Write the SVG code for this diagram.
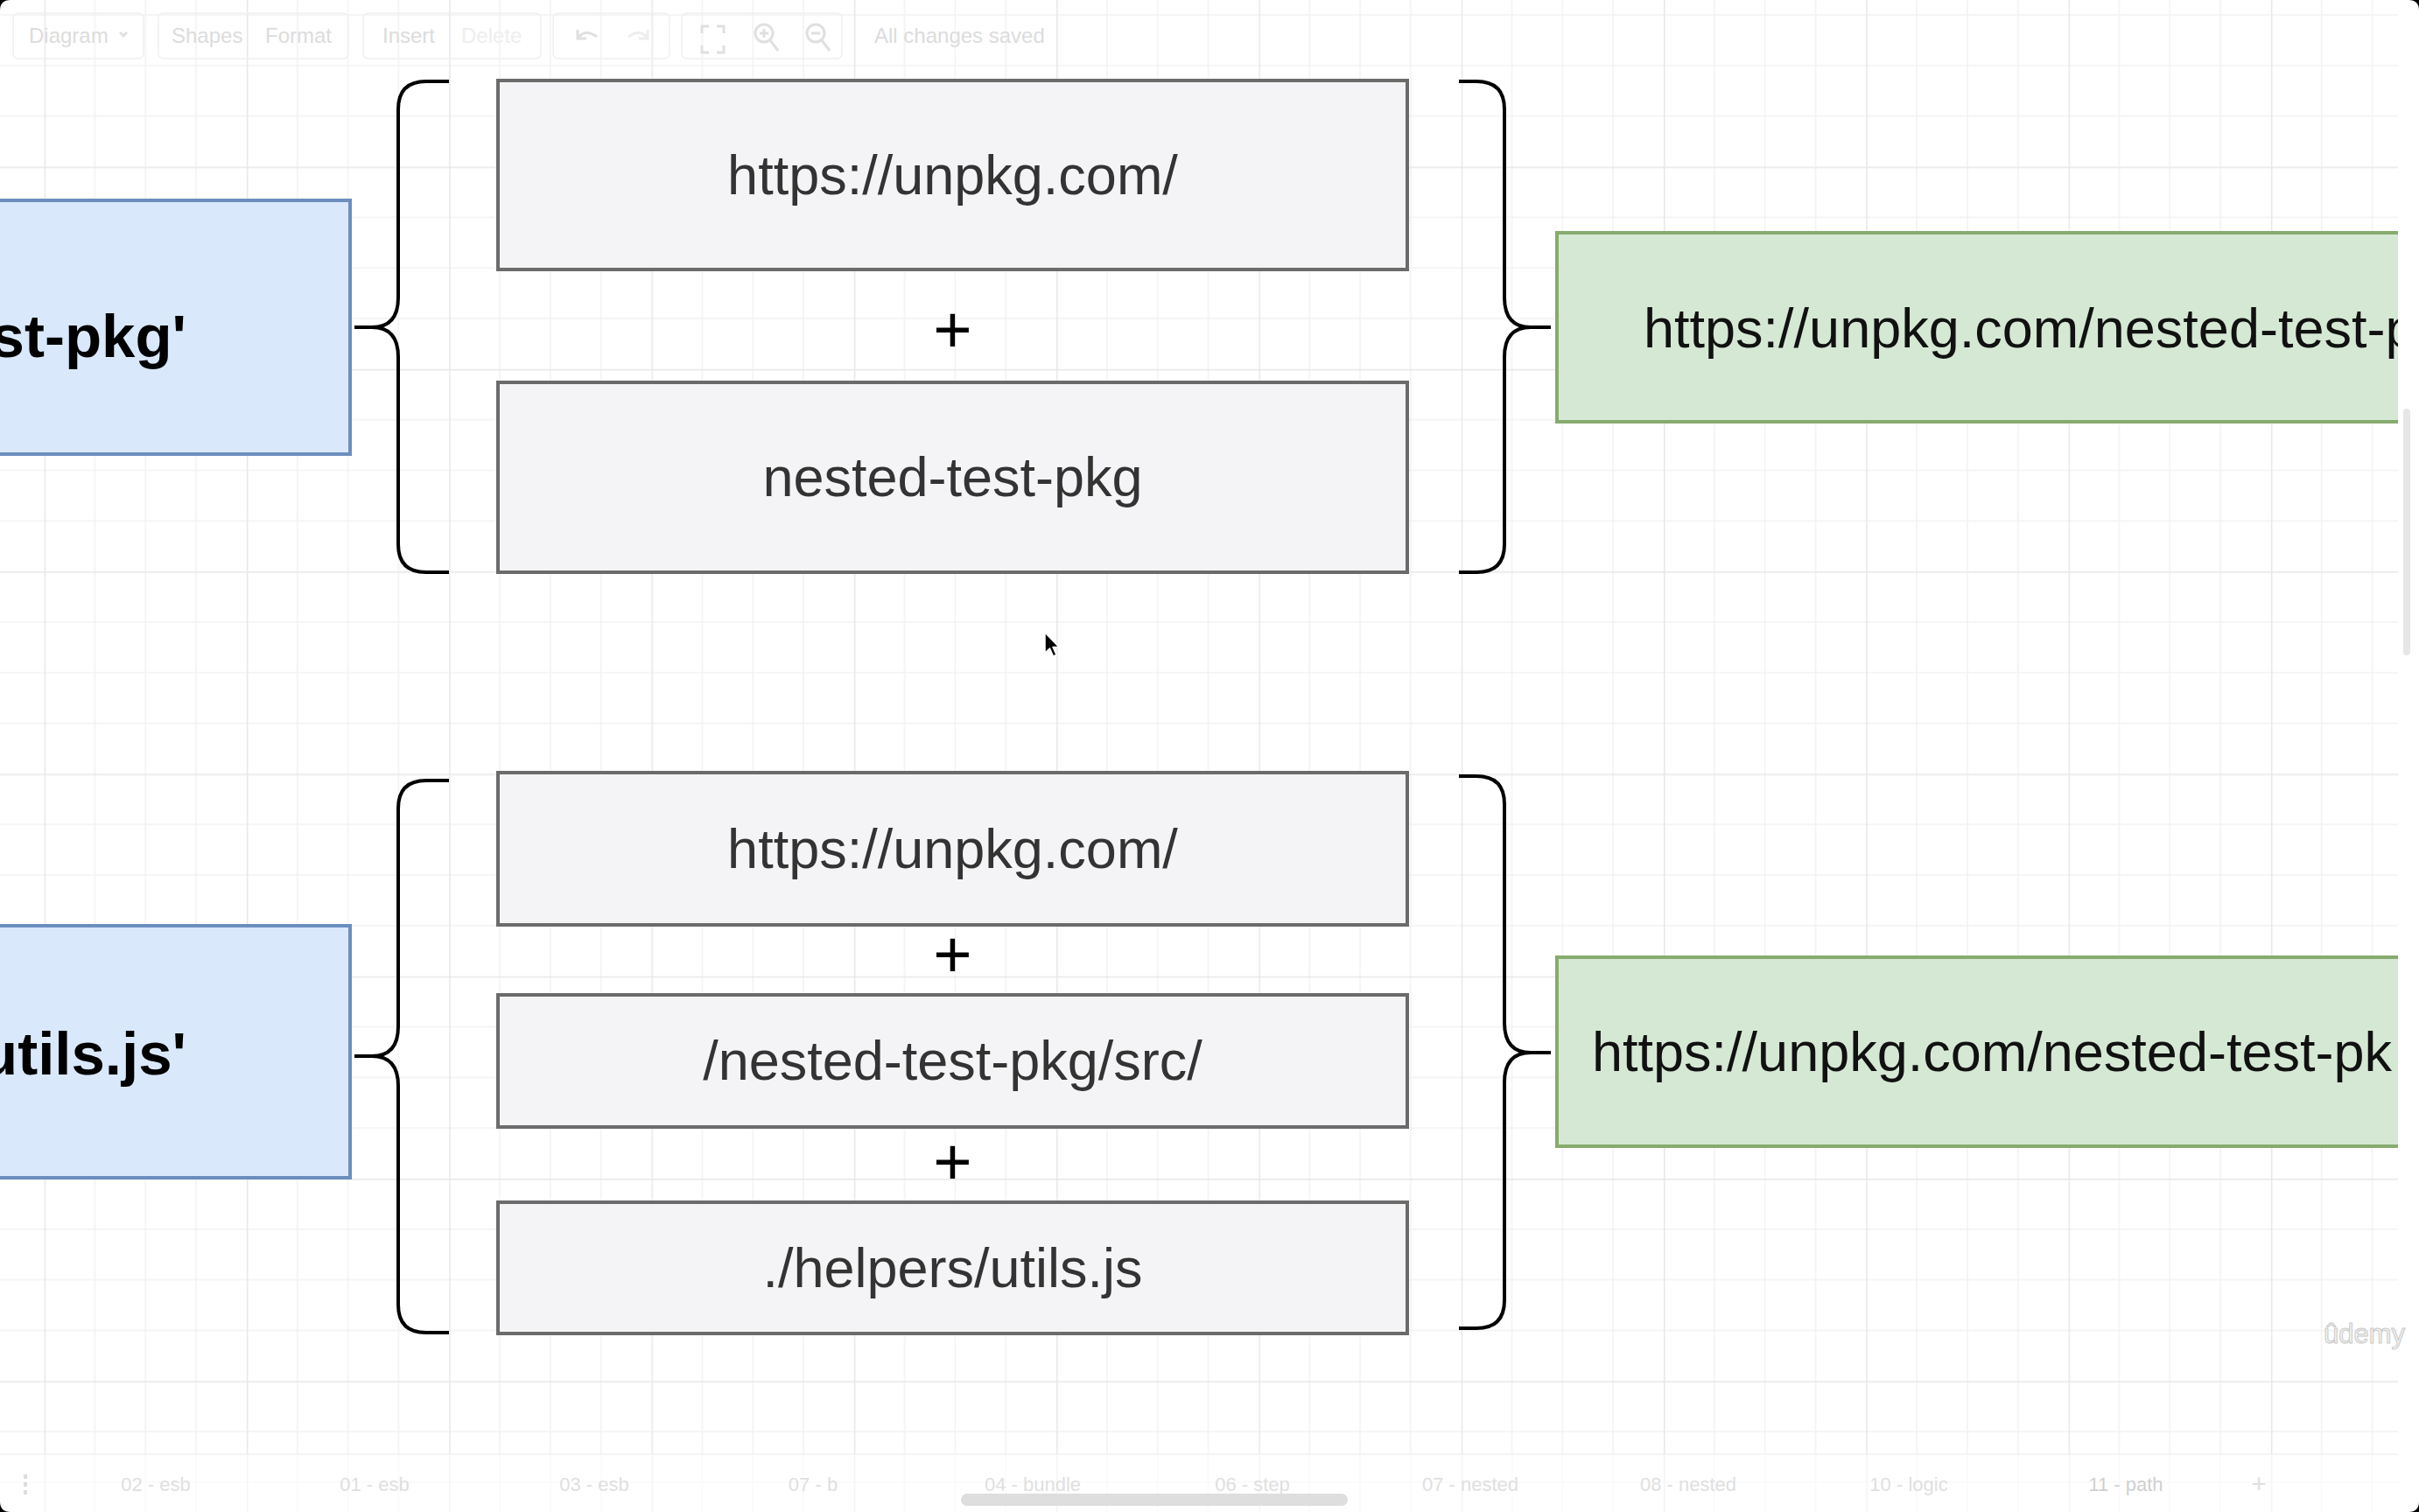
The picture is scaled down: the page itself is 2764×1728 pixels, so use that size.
<svg xmlns="http://www.w3.org/2000/svg" width="2764" height="1728" viewBox="0 0 2764 1728">
  <defs>
    <pattern id="grid" x="50.6" y="190.5" width="231.3" height="231.3" patternUnits="userSpaceOnUse">
      <path d="M57.8,0V231.3M115.65,0V231.3M173.5,0V231.3M0,57.8H231.3M0,115.65H231.3M0,173.5H231.3" stroke="#f2f2f2" stroke-width="1.5" fill="none"/>
      <path d="M0.75,0V231.3M0,0.75H231.3" stroke="#e7e7e7" stroke-width="1.5" fill="none"/>
    </pattern>
    <style>
      .gray { fill: #f4f4f6; stroke: #6b6b6b; stroke-width: 4; }
      .blue { fill: #dae8fc; stroke: #6c8ebf; stroke-width: 4; }
      .green { fill: #d5e8d4; stroke: #87ab6e; stroke-width: 4; }
      .gtxt { font-family: "Liberation Sans", Arial, Helvetica, sans-serif; font-size: 63px; fill: #333333; text-anchor: middle; }
      .btxt { font-family: "Liberation Sans", Arial, Helvetica, sans-serif; font-size: 69px; font-weight: bold; fill: #000000; text-anchor: end; }
      .rtxt { font-family: "Liberation Sans", Arial, Helvetica, sans-serif; font-size: 63px; fill: #111111; }
      .plus { font-family: "Liberation Sans", Arial, Helvetica, sans-serif; font-size: 76px; fill: #000000; text-anchor: middle; }
      .brace { fill: none; stroke: #000000; stroke-width: 4; stroke-linecap: butt; stroke-linejoin: round; }
      .tb { font-family: "Liberation Sans", Arial, Helvetica, sans-serif; font-size: 24px; fill: #dcdcdc; }
      .tbbox { fill: none; stroke: #f0f0f0; stroke-width: 1.5; }
      .tbicon { fill: none; stroke: #e0e0e0; stroke-width: 3; }
      .tab { font-family: "Liberation Sans", Arial, Helvetica, sans-serif; font-size: 22px; fill: #e0e0e0; text-anchor: middle; }
    </style>
  </defs>

  <!-- canvas -->
  <rect x="0" y="0" width="2764" height="1728" fill="#ffffff"/>
  <rect x="0" y="0" width="2740" height="1728" fill="url(#grid)"/>

  <!-- toolbar (faded) -->
  <g id="toolbar">
    <rect class="tbbox" x="15" y="15" width="149" height="52" rx="6"/>
    <text class="tb" x="33" y="49">Diagram</text>
    <path class="tbicon" d="M137,37 l4,4 l4,-4" stroke-width="2"/>
    <rect class="tbbox" x="181" y="15" width="217" height="52" rx="6"/>
    <text class="tb" x="196" y="49">Shapes</text>
    <text class="tb" x="303" y="49">Format</text>
    <rect class="tbbox" x="415" y="15" width="203" height="52" rx="6"/>
    <text class="tb" x="437" y="49">Insert</text>
    <text class="tb" x="527" y="49" style="fill:#eeeeee">Delete</text>
    <rect class="tbbox" x="632" y="15" width="133" height="52" rx="6"/>
    <path class="tbicon" d="M660,34 v10 h10 M660,44 q8,-12 22,-2"/>
    <path class="tbicon" d="M740,34 v10 h-10 M740,44 q-8,-12 -22,-2" style="stroke:#eeeeee"/>
    <rect class="tbbox" x="779" y="15" width="183" height="52" rx="6"/>
    <path class="tbicon" d="M802,38 v-8 h8 M827,38 v-8 h-8 M802,52 v8 h8 M827,52 v8 h-8"/>
    <circle class="tbicon" cx="873" cy="38" r="10"/>
    <path class="tbicon" d="M880,46 l9,12 M868,38 h10 M873,33 v10"/>
    <circle class="tbicon" cx="932" cy="38" r="10"/>
    <path class="tbicon" d="M939,46 l9,12 M927,38 h10"/>
    <text class="tb" x="999" y="49">All changes saved</text>
  </g>

  <!-- connectors (braces) -->
  <g id="connectors">
    <path class="brace" d="M513,93 H487 Q455,93 455,125 V340 Q455,374 425,374 H405 M425,374 Q455,374 455,408 V622 Q455,654 487,654 H513"/>
    <path class="brace" d="M1667,93 H1687 Q1719,93 1719,125 V340 Q1719,374 1749,374 H1772 M1749,374 Q1719,374 1719,408 V622 Q1719,654 1687,654 H1667"/>
    <path class="brace" d="M513,892 H487 Q455,892 455,924 V1173 Q455,1207 425,1207 H405 M425,1207 Q455,1207 455,1241 V1491 Q455,1523 487,1523 H513"/>
    <path class="brace" d="M1667,887 H1687 Q1719,887 1719,919 V1169 Q1719,1203 1749,1203 H1772 M1749,1203 Q1719,1203 1719,1237 V1486 Q1719,1518 1687,1518 H1667"/>
  </g>

  <!-- top group -->
  <g id="import-pkg">
    <rect class="blue" x="-10" y="229" width="410" height="290"/>
    <text class="btxt" x="213" y="408">st-pkg'</text>
  </g>
  <g id="top-base">
    <rect class="gray" x="569" y="92" width="1039" height="216"/>
    <text class="gtxt" x="1088.5" y="222">https://unpkg.com/</text>
  </g>
  <g id="top-plus">
    <text class="plus" x="1088.5" y="403">+</text>
  </g>
  <g id="top-name">
    <rect class="gray" x="569" y="437" width="1039" height="217"/>
    <text class="gtxt" x="1088.5" y="567">nested-test-pkg</text>
  </g>
  <g id="top-result">
    <rect class="green" x="1779" y="266" width="1000" height="216"/>
    <text class="rtxt" x="1878" y="397">https://unpkg.com/nested-test-p</text>
  </g>

  <!-- bottom group -->
  <g id="import-utils">
    <rect class="blue" x="-10" y="1058" width="410" height="288"/>
    <text class="btxt" x="213" y="1228">utils.js'</text>
  </g>
  <g id="bottom-base">
    <rect class="gray" x="569" y="883" width="1039" height="174"/>
    <text class="gtxt" x="1088.5" y="992">https://unpkg.com/</text>
  </g>
  <g id="bottom-plus-1">
    <text class="plus" x="1088.5" y="1117">+</text>
  </g>
  <g id="bottom-dir">
    <rect class="gray" x="569" y="1137" width="1039" height="151"/>
    <text class="gtxt" x="1088.5" y="1234">/nested-test-pkg/src/</text>
  </g>
  <g id="bottom-plus-2">
    <text class="plus" x="1088.5" y="1354">+</text>
  </g>
  <g id="bottom-rel">
    <rect class="gray" x="569" y="1374" width="1039" height="150"/>
    <text class="gtxt" x="1088.5" y="1471">./helpers/utils.js</text>
  </g>
  <g id="bottom-result">
    <rect class="green" x="1779" y="1094" width="1000" height="216"/>
    <text class="rtxt" x="1819" y="1224">https://unpkg.com/nested-test-pk</text>
  </g>

  <!-- right edge strip + vertical scrollbar -->
  <rect x="2740" y="0" width="24" height="1728" fill="#ffffff"/>
  <rect x="2746" y="467" width="8" height="282" rx="4" fill="#e6e6e6"/>

  <!-- mouse cursor -->
  <path d="M1194,723 L1194,746 L1199.5,741 L1203.5,750 L1207,748.5 L1203,739.5 L1210,739.5 Z" fill="#000000" stroke="#ffffff" stroke-width="1.5" stroke-linejoin="round"/>

  <!-- watermark -->
  <text x="2655" y="1535" font-family="Liberation Sans, Arial, sans-serif" font-size="31" fill="#f4f4f4" stroke="#c9c9c9" stroke-width="1">ûdemy</text>

  <!-- bottom tab bar (faded) -->
  <g id="tabbar">
    <rect x="0" y="1662" width="2740" height="66" fill="#ffffff" fill-opacity="0.55"/>
    <line x1="0" y1="1662" x2="2740" y2="1662" stroke="#f0f0f0" stroke-width="1.5"/>
    <rect x="27" y="1685" width="4" height="5" fill="#dddddd"/>
    <rect x="27" y="1694" width="4" height="5" fill="#dddddd"/>
    <rect x="27" y="1703" width="4" height="5" fill="#dddddd"/>
    <text class="tab" x="178" y="1704">02 - esb</text>
    <text class="tab" x="428" y="1704">01 - esb</text>
    <text class="tab" x="679" y="1704">03 - esb</text>
    <text class="tab" x="929" y="1704">07 - b</text>
    <text class="tab" x="1180" y="1704">04 - bundle</text>
    <text class="tab" x="1431" y="1704">06 - step</text>
    <text class="tab" x="1680" y="1704">07 - nested</text>
    <text class="tab" x="1929" y="1704">08 - nested</text>
    <text class="tab" x="2181" y="1704">10 - logic</text>
    <text class="tab" x="2429" y="1704" style="fill:#d0d0d0">11 - path</text>
    <text class="tab" x="2581" y="1706" style="font-size:30px">+</text>
    <rect x="1098" y="1707" width="442" height="14" rx="7" fill="#dedede"/>
  </g>

  <!-- screen corners -->
  <path d="M0,0 H12 Q0,0 0,12 Z" fill="#000000"/>
  <path d="M0,1728 H12 Q0,1728 0,1716 Z" fill="#000000"/>
  <path d="M2764,1728 H2752 Q2764,1728 2764,1716 Z" fill="#000000"/>
  <path d="M2764,0 H2752 Q2764,0 2764,12 Z" fill="#000000"/>
</svg>
